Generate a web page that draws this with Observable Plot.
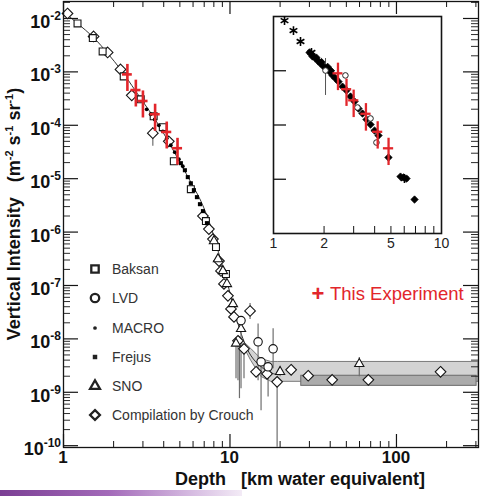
<!DOCTYPE html>
<html>
<head>
<meta charset="utf-8">
<script src="https://cdn.jsdelivr.net/npm/d3@7"></script>
<script src="https://cdn.jsdelivr.net/npm/@observablehq/plot@0.6"></script>
<style>
  html,body{margin:0;padding:0;background:#fff;}
  #wrap{position:relative;width:480px;height:496px;overflow:hidden;font-family:"Liberation Sans",Arial,sans-serif;}
  #wrap svg{display:block;}
  #main{position:absolute;left:0;top:0;}
  #inset{position:absolute;left:263px;top:10px;}
  #bar{position:absolute;left:0;top:490px;width:242px;height:6px;background:linear-gradient(to right,#7b3f94,#a36ab9 45%,#d7bde2 80%,#f3ebf6);}
</style>
</head>
<body>
<div id="wrap"><div id="main"></div><div id="inset"></div><div id="bar"></div></div>
<script>
// ---------------- DATA (depth in km w.e., vertical intensity in m^-2 s^-1 sr^-1) ----------------
const baksanDepth = [1.214, 1.50, 1.718, 2.30, 2.91, 3.48, 3.95, 4.60, 5.82, 7.17, 8.24, 9.46];
const baksanIntensity = [8.07e-3, 4.3e-3, 2.42e-3, 8.24e-4, 3.06e-4, 1.47e-4, 9.2e-5, 2.12e-5, 6.37e-6, 1.61e-6, 5.25e-7, 1.64e-7];

const lvdDepth = [11.65, 14.75, 18.16, 15.37, 16.94];
const lvdIntensity = [2.2e-8, 8.8e-9, 6.5e-9, 3.72e-9, 3.0e-9];

const macroDepth = [3.16, 3.34, 3.53, 3.74, 3.95, 4.17, 4.41, 4.66, 4.93, 5.21];
const macroIntensity = [1.99e-4, 1.61e-4, 1.29e-4, 1.0e-4, 7.7e-5, 5.7e-5, 4.23e-5, 3.13e-5, 2.31e-5, 1.71e-5];

const frejusDepth = [5.07, 5.36, 5.58, 5.82, 6.07, 6.33, 6.60, 6.88, 7.27];
const frejusIntensity = [1.95e-5, 1.44e-5, 1.07e-5, 8.2e-6, 6.1e-6, 4.51e-6, 3.33e-6, 2.47e-6, 1.47e-6];

const snoDepth = [8.01, 8.47, 9.07, 9.59, 10.42, 10.87, 11.65, 20.0, 59.8];
const snoIntensity = [6.8e-7, 3.13e-7, 1.87e-7, 1.07e-7, 4.5e-8, 8.2e-9, 1.54e-8, 2.42e-9, 3.41e-9];

const crouchDepth = [1.057, 1.516, 1.841, 2.20, 2.57, 3.44, 4.29, 6.88, 7.47, 7.90, 8.59, 8.83, 9.20, 9.72, 10.14, 10.57, 13.2, 11.17, 12.14, 14.35, 16.7, 19.19, 23.3, 29.5, 41.1, 67.8, 184];
const crouchIntensity = [1.24e-2, 4.61e-3, 2.31e-3, 1.11e-3, 3.64e-4, 7.1e-5, 5.0e-5, 2.0e-6, 1.14e-6, 7.4e-7, 2.87e-7, 1.87e-7, 1.07e-7, 6.4e-8, 3.64e-8, 2.58e-8, 3.33e-8, 9.2e-9, 6.5e-9, 2.42e-9, 2.22e-9, 1.57e-9, 2.64e-9, 2.04e-9, 1.71e-9, 1.71e-9, 2.42e-9];

// error bars (gray)
const errDepth = [3.44, 13.2, 10.87, 11.17, 11.4, 11.65, 12.14, 14.75, 18.16, 15.37, 16.94, 19.19, 20.0, 59.8, 23.3, 29.5, 41.1, 67.8, 184];
const errLow  = [4.05e-5, 2.3e-8, 1.8e-9, 1.64e-9, 7.6e-10, 1.16e-9, 1.79e-9, 1.64e-9, 2.75e-9, 4.5e-10, 8.2e-10, 9.3e-11, 1.95e-9, 1.95e-9, 2.2e-9, 1.7e-9, 1.45e-9, 1.45e-9, 2.0e-9];
const errHigh = [9.0e-5, 4.6e-8, 8.2e-9, 9.2e-9, 1.1e-8, 1.54e-8, 6.5e-9, 1.9e-8, 1.54e-8, 3.72e-9, 3.0e-9, 1.9e-9, 3.0e-9, 4.5e-9, 2.64e-9, 2.04e-9, 1.71e-9, 1.71e-9, 2.42e-9];

// depth-intensity relation (curve) and its uncertainty band
const curveDepth = [1.0, 1.214, 1.516, 1.841, 2.205, 2.57, 2.99, 3.58, 4.29, 5.07, 5.82, 6.69, 7.69, 8.83, 9.86, 10.87, 11.98, 13.38, 15.37, 17.66, 19.46];
const curveIntensity = [1.35e-2, 8.07e-3, 4.42e-3, 2.22e-3, 1.11e-3, 5.6e-4, 2.81e-4, 1.24e-4, 4.81e-5, 1.87e-5, 8.6e-6, 3.8e-6, 1.24e-6, 2.87e-7, 8.6e-8, 2.58e-8, 1.0e-8, 4.81e-9, 3.0e-9, 2.31e-9, 2.12e-9];
const bandDepth = [11.6, 13.4, 15.4, 17.7, 19.5, 311];
const bandHigh = [1.0e-8, 6.5e-9, 4.2e-9, 3.7e-9, 3.7e-9, 3.7e-9];
const bandLow = [9.2e-9, 3.9e-9, 1.95e-9, 1.57e-9, 1.57e-9, 1.57e-9];
const darkBandDepth = [26.8, 303];
const darkBandIntensity = [1.32e-9, 2.04e-9];

// This Experiment (red crosses)
const expDepth = [2.42, 2.72, 3.00, 3.55, 4.17, 4.84];
const expDepthLow = [2.26, 2.54, 2.80, 3.31, 3.89, 4.51];
const expDepthHigh = [2.59, 2.92, 3.22, 3.81, 4.47, 5.19];
const expIntensity = [8.97e-4, 4.57e-4, 2.85e-4, 1.61e-4, 7.5e-5, 3.72e-5];
const expLow = [4.3e-4, 2.2e-4, 1.37e-4, 7.7e-5, 3.6e-5, 1.79e-5];
const expHigh = [1.38e-3, 7.0e-4, 4.4e-4, 2.48e-4, 1.15e-4, 5.7e-5];

// inset
const insetStarDepth = [1.163, 1.315, 1.448, 1.683, 6.02];
const insetStarIntensity = [8.4e-3, 5.5e-3, 3.46e-3, 2.17e-3, 1.03e-5];
const insetDiamondDepth = [1.638, 1.68, 1.707, 1.778, 1.80, 1.853, 1.905, 1.93, 1.984, 2.068, 2.10, 2.154, 2.20, 2.245, 2.339, 2.437, 2.575, 2.719, 2.873, 3.035, 3.206, 3.387, 3.578, 3.78, 3.993, 4.217, 4.836, 5.70, 5.94, 6.19, 6.91];
const insetDiamondIntensity = [2.17e-3, 2.05e-3, 1.83e-3, 1.68e-3, 1.75e-3, 1.48e-3, 1.36e-3, 1.45e-3, 1.20e-3, 1.10e-3, 1.18e-3, 9.7e-4, 1.0e-3, 8.2e-4, 7.2e-4, 6.3e-4, 5.1e-4, 4.33e-4, 3.35e-4, 2.71e-4, 2.01e-4, 1.63e-4, 1.26e-4, 1.02e-4, 7.9e-5, 6.4e-5, 2.52e-5, 1.12e-5, 1.08e-5, 1.03e-5, 4.23e-6];
const insetCircleDepth = [2.04, 2.68, 3.16, 3.78, 4.10];
const insetCircleIntensity = [1.01e-3, 8.2e-4, 2.1e-4, 1.32e-4, 4.75e-5];
const insetErrDepth = [2.04];
const insetErrLow = [3.5e-4];
const insetErrHigh = [1.68e-3];

// axes / ticks / labels
const xDomain = [1, 311];
const yDomain = [Math.pow(10, -10.034), Math.pow(10, -1.682)];
const xMajor = [1, 10, 100];
const xMinor = [2, 3, 4, 5, 6, 7, 8, 9, 20, 30, 40, 50, 60, 70, 80, 90, 200, 300];
const yMajorExp = [-10, -9, -8, -7, -6, -5, -4, -3, -2];
const yMinorMult = [2, 3, 4, 5, 6, 7, 8, 9];
const insetXLabels = [1, 2, 5, 10];
const insetXMinor = [2, 3, 4, 5, 6, 7, 8, 9];
const insetYMajor = [1e-3, 1e-4, 1e-5];
const legendLabels = ["Baksan", "LVD", "MACRO", "Frejus", "SNO", "Compilation by Crouch"];
const xTitle = "Depth   [km water equivalent]";
const expLabel = "This Experiment";

// ---------------- BUILD ----------------
const FONT = '"Liberation Sans", Arial, Helvetica, sans-serif';
const RED = "#e2262b";
const rows = (xs, ys) => xs.map((x, i) => ({x, y: ys[i]}));
const yMajor = yMajorExp.map(e => Math.pow(10, e));
const yMinor = [];
for (const e of yMajorExp) for (const m of yMinorMult) { const v = m * Math.pow(10, e); if (v < yDomain[1]) yMinor.push(v); }

const W = 480, H = 496, ML = 63, MR = 2, MT = 1, MB = 49;
const PW = W - ML - MR, PH = H - MT - MB;

const band = bandDepth.map((x, i) => ({x, lo: bandLow[i], hi: bandHigh[i]}));
const dark = [{x1: darkBandDepth[0], x2: darkBandDepth[1], y1: darkBandIntensity[0], y2: darkBandIntensity[1]}];
const errs = errDepth.map((x, i) => ({x, lo: errLow[i], hi: errHigh[i]}));
const cross = expDepth.map((x, i) => ({x, y: expIntensity[i], lo: expLow[i], hi: expHigh[i], xlo: expDepthLow[i], xhi: expDepthHigh[i]}));
const ink = "#141414";

const main = Plot.plot({
  width: W, height: H, marginLeft: ML, marginRight: MR, marginTop: MT, marginBottom: MB,
  x: {type: "log", domain: xDomain, axis: null},
  y: {type: "log", domain: yDomain, axis: null},
  style: {fontFamily: FONT, background: "transparent", overflow: "visible"},
  marks: [
    Plot.areaY(band, {x: "x", y1: "lo", y2: "hi", fill: "#d3d3d3", stroke: "#7a7a7a", strokeWidth: 1}),
    Plot.rect(dark, {x1: "x1", x2: "x2", y1: "y1", y2: "y2", fill: "#ababab", stroke: "#6a6a6a", strokeWidth: 1}),
    Plot.line(rows(curveDepth, curveIntensity), {x: "x", y: "y", curve: "catmull-rom", stroke: "#333", strokeWidth: 1}),
    Plot.ruleX(errs, {x: "x", y1: "lo", y2: "hi", stroke: "#6e6e6e", strokeWidth: 1.2}),
    Plot.dot(rows(crouchDepth, crouchIntensity), {x: "x", y: "y", symbol: "diamond2", r: 4.8, fill: "white", stroke: ink, strokeWidth: 1.1}),
    Plot.dot(rows(baksanDepth, baksanIntensity), {x: "x", y: "y", symbol: "square2", r: 4.4, fill: "white", stroke: ink, strokeWidth: 1.1}),
    Plot.dot(rows(snoDepth, snoIntensity), {x: "x", y: "y", symbol: "triangle2", r: 4.4, fill: "white", stroke: ink, strokeWidth: 1.1}),
    Plot.dot(rows(lvdDepth, lvdIntensity), {x: "x", y: "y", symbol: "circle", r: 4.2, fill: "white", stroke: ink, strokeWidth: 1.1}),
    Plot.dot(rows(macroDepth, macroIntensity), {x: "x", y: "y", r: 1.9, fill: "#000", stroke: "none"}),
    Plot.dot(rows(frejusDepth, frejusIntensity), {x: "x", y: "y", symbol: "square", r: 2.3, fill: "#000", stroke: "none"}),
    Plot.ruleX(cross, {x: "x", y1: "lo", y2: "hi", stroke: RED, strokeWidth: 2.6}),
    Plot.ruleY(cross, {y: "y", x1: "xlo", x2: "xhi", stroke: RED, strokeWidth: 2.6}),
    Plot.frame({stroke: ink, strokeWidth: 1.3}),
    // bottom / top ticks
    Plot.ruleX(xMajor, {x: d => d, insetTop: PH - 13, stroke: ink, strokeWidth: 1.2}),
    Plot.ruleX(xMinor, {x: d => d, insetTop: PH - 6, stroke: ink, strokeWidth: 1}),
    Plot.ruleX(xMajor, {x: d => d, insetBottom: PH - 13, stroke: ink, strokeWidth: 1.2}),
    Plot.ruleX(xMinor, {x: d => d, insetBottom: PH - 6, stroke: ink, strokeWidth: 1}),
    // left / right ticks
    Plot.ruleY(yMajor, {y: d => d, insetRight: PW - 15, stroke: ink, strokeWidth: 1.2}),
    Plot.ruleY(yMinor, {y: d => d, insetRight: PW - 7, stroke: ink, strokeWidth: 0.9}),
    Plot.ruleY(yMajor, {y: d => d, insetLeft: PW - 15, stroke: ink, strokeWidth: 1.2}),
    Plot.ruleY(yMinor, {y: d => d, insetLeft: PW - 7, stroke: ink, strokeWidth: 0.9})
  ]
});
document.getElementById("main").appendChild(main);

// text labels placed through the plot's scales
const sx = main.scale("x"), sy = main.scale("y");
const svg = d3.select(main);
const g = svg.append("g").attr("font-family", FONT).attr("fill", "#111").attr("text-anchor", "start").style("white-space", "pre");

yMajorExp.forEach(e => {
  const y = sy.apply(Math.pow(10, e));
  const t = g.append("text").attr("x", 61).attr("y", y + 10).attr("text-anchor", "end")
    .attr("font-weight", "bold").attr("font-size", 18);
  t.append("tspan").text("10");
  t.append("tspan").attr("dy", -8).attr("font-size", 12).text(String(e));
});
xMajor.forEach(v => {
  g.append("text").attr("x", sx.apply(v)).attr("y", 463).attr("text-anchor", "middle")
    .attr("font-weight", "bold").attr("font-size", 17).text(String(v));
});
g.append("text").attr("x", 175).attr("y", 485).attr("text-anchor", "start").attr("font-weight", "bold").attr("font-size", 18).text(xTitle);

const yt = g.append("text").attr("transform", "translate(20,214) rotate(-90)").attr("text-anchor", "middle")
  .attr("font-weight", "bold").attr("font-size", 18);
yt.append("tspan").text("Vertical Intensity   (m");
yt.append("tspan").attr("dy", -7).attr("font-size", 11).text("-2");
yt.append("tspan").attr("dy", 7).text(" s");
yt.append("tspan").attr("dy", -7).attr("font-size", 11).text("-1");
yt.append("tspan").attr("dy", 7).text(" sr");
yt.append("tspan").attr("dy", -7).attr("font-size", 11).text("-1");
yt.append("tspan").attr("dy", 7).text(")");

// legend
const legendSymbols = [
  {type: d3.symbolSquare2, size: 70, fill: "white", stroke: "#222"},
  {type: d3.symbolCircle, size: 56, fill: "white", stroke: "#222"},
  {type: d3.symbolCircle, size: 11, fill: "#222", stroke: "none"},
  {type: d3.symbolSquare, size: 20, fill: "#222", stroke: "none"},
  {type: d3.symbolTriangle2, size: 70, fill: "white", stroke: "#222"},
  {type: d3.symbolDiamond2, size: 62, fill: "white", stroke: "#222"}
];
const legendY = [269, 298, 328, 357, 386, 415];
legendLabels.forEach((lab, i) => {
  const s = legendSymbols[i];
  g.append("path").attr("transform", `translate(95,${legendY[i]})`)
    .attr("d", d3.symbol().type(s.type).size(s.size)())
    .attr("fill", s.fill).attr("stroke", s.stroke).attr("stroke-width", 2.3);
  g.append("text").attr("x", 112).attr("y", legendY[i] + 5).attr("text-anchor", "start")
    .attr("font-size", 14).attr("fill", "#333").text(lab);
});
g.append("text").attr("x", 318).attr("y", 301).attr("text-anchor", "middle").attr("font-weight", "bold")
  .attr("font-size", 22).attr("fill", RED).text("+");
g.append("text").attr("x", 330).attr("y", 300).attr("text-anchor", "start").attr("font-size", 18.5).attr("fill", RED).text(expLabel);

// inset
const inset = Plot.plot({
  width: 190, height: 250, marginLeft: 10, marginRight: 12, marginTop: 6, marginBottom: 27,
  x: {type: "log", domain: [1, 10], axis: null},
  y: {type: "log", domain: [1e-6, 1e-2], axis: null},
  style: {fontFamily: FONT, background: "transparent", overflow: "visible"},
  marks: [
    Plot.frame({fill: "white", stroke: ink, strokeWidth: 1.6}),
    Plot.ruleX(insetXMinor, {x: d => d, insetTop: 217 - 7, stroke: ink, strokeWidth: 1}),
    Plot.ruleY(insetYMajor, {y: d => d, insetRight: 168 - 13, stroke: ink, strokeWidth: 1.3}),
    Plot.text(insetXLabels, {x: d => d, frameAnchor: "bottom", dy: 14, text: d => String(d), fontSize: 14, fill: "#222"}),
    Plot.ruleX(insetErrDepth.map((x, i) => ({x, lo: insetErrLow[i], hi: insetErrHigh[i]})), {x: "x", y1: "lo", y2: "hi", stroke: "#555", strokeWidth: 1}),
    Plot.dot(rows(insetDiamondDepth, insetDiamondIntensity), {x: "x", y: "y", symbol: "diamond2", r: 3.3, fill: "#000", stroke: "#000", strokeWidth: 0.8}),
    Plot.dot(rows(insetCircleDepth, insetCircleIntensity), {x: "x", y: "y", symbol: "circle", r: 2.8, fill: "white", stroke: "#222", strokeWidth: 1}),
    Plot.dot(rows(insetStarDepth, insetStarIntensity), {x: "x", y: "y", symbol: "asterisk", r: 4.2, stroke: "#000", strokeWidth: 1.6}),
    Plot.ruleX(cross, {x: "x", y1: "lo", y2: "hi", stroke: RED, strokeWidth: 2.3}),
    Plot.ruleY(cross, {y: "y", x1: "xlo", x2: "xhi", stroke: RED, strokeWidth: 2.3})
  ]
});
document.getElementById("inset").appendChild(inset);
</script>
</body>
</html>
